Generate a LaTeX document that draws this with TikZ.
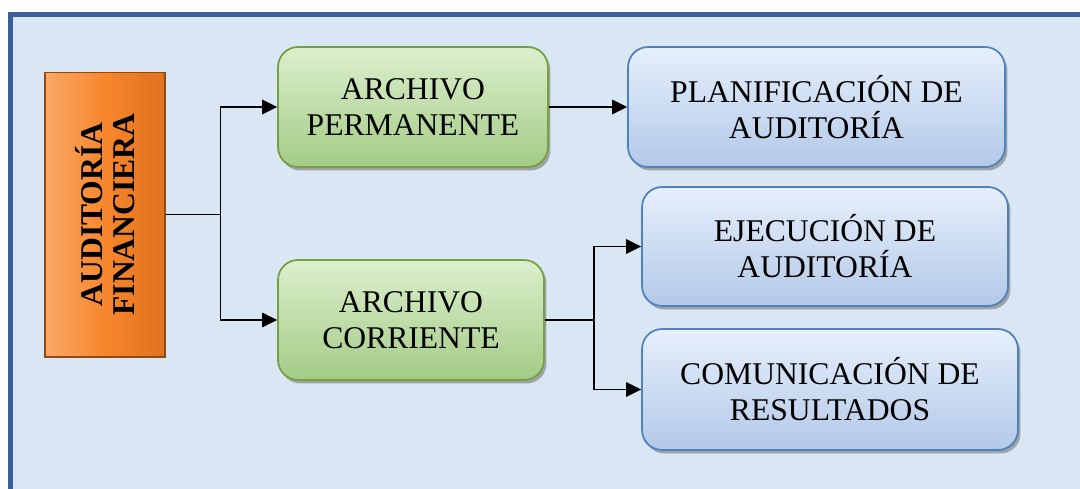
\documentclass[tikz,border=0pt]{standalone}
\usepackage{fontspec}
\setmainfont{Liberation Serif}
\usepackage[table, x11names, svgnames]{xcolor}
\usepackage{tikz}
\usetikzlibrary{shadows}
\usetikzlibrary{arrows.meta}

\definecolor{marco}{HTML}{3A5F9A}
\definecolor{fondo}{HTML}{D9E6F4}
\definecolor{naranjaA}{HTML}{FAA868}
\definecolor{naranjaB}{HTML}{F7862C}
\definecolor{naranjaC}{HTML}{E0721F}
\definecolor{naranjaD}{HTML}{8C4A16}
\definecolor{verdeA}{HTML}{DCEFCD}
\definecolor{verdeB}{HTML}{B4D89C}
\definecolor{verdeC}{HTML}{A3CB86}
\definecolor{verdeD}{HTML}{76A03F}
\definecolor{azulA}{HTML}{E6EFFB}
\definecolor{azulB}{HTML}{C4D7F1}
\definecolor{azulC}{HTML}{B3C9E8}
\definecolor{azulD}{HTML}{4F81BD}

\tikzset{
    caja/.style={rounded corners=0.4cm,
    align=center,
    font=\fontsize{18}{20.5}\selectfont,
    line width=1pt,
    drop shadow={shadow xshift=0.05cm, shadow yshift=-0.07cm, opacity=0.65}},
    archivo/.style={caja,
    draw=verdeD,
    top color=verdeA,
    middle color=verdeB,
    bottom color=verdeC},
    fase/.style={caja,
    draw=azulD,
    top color=azulA,
    middle color=azulB,
    bottom color=azulC},
    flecha/.style={line width=0.8pt, -{Triangle[length=0.3cm, width=0.29cm]}},
    linea/.style={line width=0.8pt}
}

\begin{document}
\begin{tikzpicture}[x=0.02cm, y=-0.02cm]
    \useasboundingbox (0,0) rectangle (1080,488);
    \clip (0,0) rectangle (1080,488);
    \fill[white] (0,0) rectangle (1080,488);
    % marco de fondo
    \draw[marco, line width=0.1cm, fill=fondo] (10.5,14.5) rectangle (1100,510);

    % auditoria
    \node (af) at (105,214.5) [rotate=90,
    minimum width=5.7cm,
    minimum height=2.4cm,
    draw=naranjaD,
    line width=0.6pt,
    left color=naranjaA,
    right color=naranjaC,
    middle color=naranjaB,
    align=center,
    font=\fontsize{18}{18.5}\selectfont\bfseries] {AUDITORÍA\\FINANCIERA};

    % archivos
    \node (ap) at (413,107) [archivo, minimum width=5.4cm, minimum height=2.4cm] {ARCHIVO\\PERMANENTE};
    \node (ac) at (411,320) [archivo, minimum width=5.32cm, minimum height=2.4cm] {ARCHIVO\\CORRIENTE};

    % fases
    \node (pa) at (816.5,107) [fase, minimum width=7.54cm, minimum height=2.4cm] {PLANIFICACIÓN DE\\AUDITORÍA};
    \node (ea) at (825,246.5) [fase, minimum width=7.32cm, minimum height=2.38cm] {EJECUCIÓN DE\\AUDITORÍA};
    \node (cr) at (830,389.5) [fase, minimum width=7.52cm, minimum height=2.42cm] {COMUNICACIÓN DE\\RESULTADOS};

    % conectores
    \draw[linea] (af.south) -- ++(55,0) coordinate (j1);
    \draw[flecha] (j1) |- (ap.west);
    \draw[flecha] (j1) |- (ac.west);
    \draw[flecha] (ap.east) -- (pa.west);
    \draw[linea] (ac.east) -- ++(49,0) coordinate (j2);
    \draw[flecha] (j2) |- (ea.west);
    \draw[flecha] (j2) |- (cr.west);
\end{tikzpicture}
\end{document}
